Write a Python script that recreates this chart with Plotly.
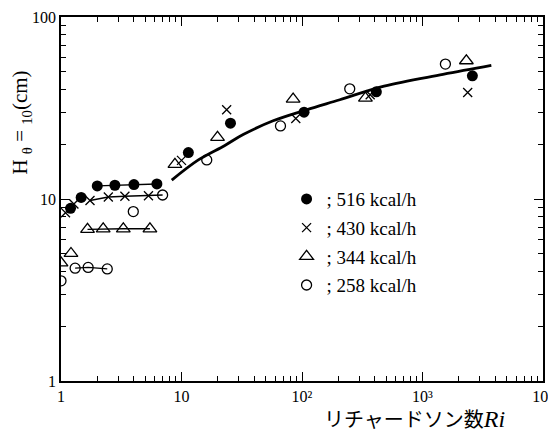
import plotly.graph_objects as go

# ---- data ----
ri_516 = [1.20, 1.47, 2.00, 2.80, 4.03, 6.25, 11.4, 25.5, 104, 414, 2594]
h_516 = [8.89, 10.2, 11.8, 11.9, 12.0, 12.1, 18.0, 26.1, 30.0, 38.8, 47.5]

ri_430 = [1.09, 1.28, 1.74, 2.47, 3.39, 5.32, 10.0, 23.7, 88.8, 368, 2371]
h_430 = [8.41, 9.39, 9.81, 10.26, 10.35, 10.41, 16.3, 30.9, 27.7, 37.4, 38.5]

ri_344 = [1.0, 1.21, 1.66, 2.24, 3.29, 5.47, 8.82, 19.9, 84.4, 336, 2312]
h_344 = [4.46, 5.02, 6.81, 6.86, 6.86, 6.86, 15.5, 21.8, 35.4, 35.8, 57.5]

ri_258 = [1.0, 1.31, 1.68, 2.42, 3.98, 6.97, 16.2, 66.3, 249, 1549]
h_258 = [3.55, 4.17, 4.21, 4.13, 8.53, 10.52, 16.4, 25.2, 40.3, 55.1]

# plateau connecting lines (subsets of the series above)
line_516_x = ri_516[2:6]
line_516_y = h_516[2:6]
line_430_x = ri_430[2:6] + [ri_258[5]]
line_430_y = h_430[2:6] + [h_258[5]]
line_344_x = ri_344[2:6]
line_344_y = h_344[2:6]
line_258_x = ri_258[1:4]
line_258_y = h_258[1:4]

# fitted curve
curve_x = [8.3, 13.8, 22.9, 32.5, 57.6, 109, 206, 480, 1479, 3725]
curve_y = [12.7, 16.4, 19.7, 22.6, 26.9, 30.9, 35.1, 41.7, 48.4, 54.2]

x_tickvals = [1, 10, 100, 1000, 10000]
x_ticktext = ["1", "10", "10²", "10³", "10⁴"]
y_tickvals = [1, 10, 100]
y_ticktext = ["1", "10", "100"]
x_minor = [d * k for d in [1, 10, 100, 1000] for k in range(2, 10)]
y_minor = [d * k for d in [1, 10] for k in range(2, 10)]

labels = ["; 516 kcal/h", "; 430 kcal/h", "; 344 kcal/h", "; 258 kcal/h"]

SERIF = "Liberation Serif"

fig = go.Figure()

for lx, ly in [(line_516_x, line_516_y), (line_430_x, line_430_y),
               (line_344_x, line_344_y), (line_258_x, line_258_y)]:
    fig.add_trace(go.Scatter(x=lx, y=ly, mode="lines",
                             line=dict(color="black", width=1.4),
                             showlegend=False, hoverinfo="skip"))

fig.add_trace(go.Scatter(x=curve_x, y=curve_y, mode="lines",
                         line=dict(color="black", width=2.8, shape="spline", smoothing=1.0),
                         showlegend=False, hoverinfo="skip"))

# invisible trace that carries the minor-tick overlay axes
fig.add_trace(go.Scatter(x=curve_x, y=curve_y, mode="lines", xaxis="x2", yaxis="y2",
                         line=dict(color="rgba(0,0,0,0)", width=0),
                         showlegend=False, hoverinfo="skip"))

marker_specs = [
    (ri_516, h_516, dict(symbol="circle", size=11, color="black")),
    (ri_430, h_430, dict(symbol="x-thin-open", size=9, color="black",
                         line=dict(color="black", width=1.3))),
    (ri_344, h_344, dict(symbol="triangle-up-open", size=12, color="black",
                         line=dict(color="black", width=1.3))),
    (ri_258, h_258, dict(symbol="circle-open", size=10, color="black",
                         line=dict(color="black", width=1.3))),
]
for i, ((xs, ys, mk), lab) in enumerate(zip(marker_specs, labels)):
    fig.add_trace(go.Scatter(x=xs, y=ys, mode="markers", marker=mk,
                             name=lab, legendgroup=f"g{i}"))

axis_common = dict(
    type="log", showgrid=False, zeroline=False, automargin=False,
    showline=True, linecolor="black", linewidth=1.5, mirror="ticks",
    ticks="inside", tickcolor="black",
    tickfont=dict(family=SERIF, size=16, color="black"),
)

fig.update_layout(
    xaxis=dict(range=[0, 4], tickmode="array", tickvals=x_tickvals,
               ticktext=x_ticktext, ticklen=9, tickwidth=1.2, **axis_common),
    yaxis=dict(range=[0, 2], tickmode="array", tickvals=y_tickvals,
               ticktext=y_ticktext, ticklen=9, tickwidth=1.2, **axis_common),
    xaxis2=dict(range=[0, 4], tickmode="array", tickvals=x_minor,
                showticklabels=False, overlaying="x", anchor="y2", side="bottom",
                ticklen=5, tickwidth=1, **axis_common),
    yaxis2=dict(range=[0, 2], tickmode="array", tickvals=y_minor,
                showticklabels=False, overlaying="y", anchor="x2", side="left",
                ticklen=5, tickwidth=1, **axis_common),
)

fig.add_annotation(
    text="H <sub>θ</sub> = <sub>10</sub>(cm)", textangle=-90,
    xref="paper", yref="paper", x=-0.083, y=0.71,
    xanchor="center", yanchor="middle", showarrow=False,
    font=dict(family=SERIF, size=21, color="black"),
)
fig.add_annotation(
    text=("リチャードソン数"
          "<span style='font-family:Liberation Serif;font-size:24px'><i>Ri</i></span>"),
    xref="paper", yref="paper", x=0.734, y=-0.102,
    xanchor="center", yanchor="middle", showarrow=False,
    font=dict(family="Noto Sans CJK JP", size=20, color="black"),
)

# page body has an 8px margin, so the figure is sized/placed to land the
# plot frame at the reference position
fig.update_layout(
    width=548, height=427,
    margin=dict(l=53, r=13, t=9, b=54),
    paper_bgcolor="white", plot_bgcolor="white",
    legend=dict(x=0.468, y=0.552, xanchor="left", yanchor="top",
                bgcolor="rgba(0,0,0,0)", tracegroupgap=1,
                font=dict(family=SERIF, size=19, color="black"),
                itemwidth=30),
)

fig.write_html("out.html")
